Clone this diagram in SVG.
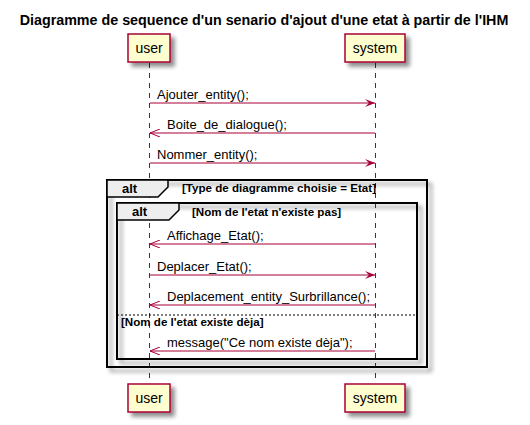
<svg xmlns="http://www.w3.org/2000/svg" width="530" height="425" viewBox="0 0 530 425">
<defs>
<filter id="sh" x="-20%" y="-20%" width="150%" height="150%">
<feGaussianBlur in="SourceAlpha" stdDeviation="2"/>
<feOffset dx="4" dy="4" result="b"/>
<feComponentTransfer><feFuncA type="linear" slope="0.45"/></feComponentTransfer>
<feMerge><feMergeNode/><feMergeNode in="SourceGraphic"/></feMerge>
</filter>
<marker id="fill" viewBox="0 0 10 8" refX="10" refY="4" markerWidth="10" markerHeight="8" markerUnits="userSpaceOnUse" orient="auto">
<polygon points="0,0 10,4 0,8 4,4" fill="#A80036"/>
</marker>
<marker id="open" viewBox="0 0 10 8" refX="10" refY="4" markerWidth="10" markerHeight="8" markerUnits="userSpaceOnUse" orient="auto">
<polyline points="0,0 10,4 0,8" fill="none" stroke="#A80036" stroke-width="1"/>
</marker>
</defs>
<style>
text{font-family:"Liberation Sans",Arial,sans-serif;fill:#000}
.title{font-size:14.3px;font-weight:bold}
.pbox{fill:#FEFECE;stroke:#A80036;stroke-width:1.5}
.pname{font-size:14px}
.life{stroke:#A80036;stroke-width:1;stroke-dasharray:5,5}
.msg{stroke:#A80036;stroke-width:1;fill:none}
.sync{marker-end:url(#fill)}
.ret{marker-end:url(#open)}
.mt{font-size:13px}
.frame{fill:none;stroke:#000;stroke-width:2}
.tab{fill:#EEEEEE;stroke:#000;stroke-width:1.5}
.kw{font-size:13px;font-weight:bold}
.cond{font-size:11.6px;font-weight:bold}
.sep{stroke:#000;stroke-width:1;stroke-dasharray:2,2}
</style>
<text class="title" x="264" y="25" text-anchor="middle">Diagramme de sequence d'un senario d'ajout d'une etat à partir de l'IHM</text>
<g id="lifelines">
<line class="life" x1="149.5" y1="63" x2="149.5" y2="383"/>
<line class="life" x1="375.5" y1="63" x2="375.5" y2="383"/>
</g>
<g id="alt-outer">
<rect class="frame" x="107" y="180" width="320" height="187" filter="url(#sh)"/>
<polygon class="tab" points="107,180 168,180 168,187 158,197 107,197"/>
<text class="kw" x="122" y="193">alt</text>
<text class="cond" x="182" y="192">[Type de diagramme choisie = Etat]</text>
</g>
<g id="alt-inner">
<rect class="frame" x="117" y="203" width="300" height="156" filter="url(#sh)"/>
<polygon class="tab" points="117,203 179,203 179,210 169,220 117,220"/>
<text class="kw" x="132" y="216">alt</text>
<text class="cond" x="192" y="216">[Nom de l'etat n'existe pas]</text>
<line class="sep" x1="117" y1="315" x2="417" y2="315"/>
<text class="cond" x="121" y="326">[Nom de l'etat existe dèja]</text>
</g>
<g id="user">
<rect class="pbox" x="128" y="34" width="42" height="28" filter="url(#sh)"/>
<text class="pname" x="149" y="53" text-anchor="middle">user</text>
</g>
<g id="system">
<rect class="pbox" x="345" y="34" width="60" height="28" filter="url(#sh)"/>
<text class="pname" x="375" y="53" text-anchor="middle">system</text>
</g>
<g id="user-bottom">
<rect class="pbox" x="128" y="384" width="42" height="28" filter="url(#sh)"/>
<text class="pname" x="149" y="403" text-anchor="middle">user</text>
</g>
<g id="system-bottom">
<rect class="pbox" x="345" y="384" width="60" height="28" filter="url(#sh)"/>
<text class="pname" x="375" y="403" text-anchor="middle">system</text>
</g>
<g id="connectors">
<line class="msg sync" x1="150" y1="103" x2="375" y2="103"/>
<text class="mt" x="157" y="99">Ajouter_entity();</text>
<line class="msg ret" x1="375" y1="133" x2="150" y2="133"/>
<text class="mt" x="167" y="129">Boite_de_dialogue();</text>
<line class="msg sync" x1="150" y1="163" x2="375" y2="163"/>
<text class="mt" x="157" y="159">Nommer_entity();</text>
<line class="msg ret" x1="375" y1="244" x2="150" y2="244"/>
<text class="mt" x="167" y="240">Affichage_Etat();</text>
<line class="msg sync" x1="150" y1="275" x2="375" y2="275"/>
<text class="mt" x="157" y="271">Deplacer_Etat();</text>
<line class="msg ret" x1="375" y1="305" x2="150" y2="305"/>
<text class="mt" x="167" y="301">Deplacement_entity_Surbrillance();</text>
<line class="msg ret" x1="375" y1="351" x2="150" y2="351"/>
<text class="mt" x="167" y="347">message("Ce nom existe dèja");</text>
</g>
</svg>
